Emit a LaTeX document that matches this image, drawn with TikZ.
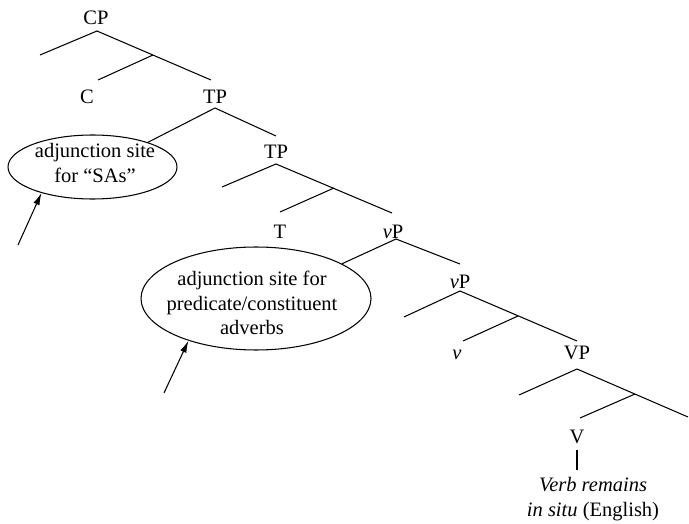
\documentclass[tikz,border=0pt]{standalone}
\usepackage{fontspec}
\setmainfont{Liberation Serif}
\usetikzlibrary{shapes.geometric,arrows.meta}
\begin{document}
\begin{tikzpicture}[x=1pt,y=-1pt,
  lbl/.style={inner sep=0pt, font=\fontsize{20.5}{24.5}\selectfont},
  oval/.style={draw, ellipse, inner sep=0pt, line width=1.05pt},
  br/.style={line width=1.05pt},
  pointer/.style={line width=1.05pt, -{Latex[length=12pt,width=6.5pt]}}]
\useasboundingbox (0,0) rectangle (689,524);
% category labels
\node[lbl] (CP) at (96,18) {CP};
\node[lbl] (C) at (87,97) {C};
\node[lbl] (TP1) at (215,97) {TP};
\node[lbl] (TP2) at (276,152) {TP};
\node[lbl] (T) at (280,232) {T};
\node[lbl] (vP1) at (393,232) {\textit{v}P};
\node[lbl] (vP2) at (460,282) {\textit{v}P};
\node[lbl] (v) at (457,355) {\textit{v}};
\node[lbl] (VP) at (577,353) {VP};
\node[lbl] (V) at (577,437) {V};
\node[lbl, align=center] (verb) at (593,499) {\textit{Verb remains}\\\textit{in situ} (English)};
% ellipses
\node[oval, minimum width=169, minimum height=64] (e1) at (92.5,167) {};
\node[lbl, align=center] (e1t) at (95,163) {adjunction site\\for ``SAs''};
\node[oval, minimum width=230, minimum height=103] (e2) at (256,298.5) {};
\node[lbl, align=center] (e2t) at (252,303) {adjunction site for\\predicate/constituent\\adverbs};
% tree points
\coordinate (a1) at (97,31);  \coordinate (l1) at (40,55);  \coordinate (j1) at (153,55);
\coordinate (r1) at (211,80); \coordinate (c1) at (98,80);
\coordinate (a2) at (215,108); \coordinate (r2) at (276,136);
\coordinate (a3) at (276,164); \coordinate (l3) at (222,187); \coordinate (j3) at (334,188);
\coordinate (r3) at (392,213); \coordinate (t3) at (280,212);
\coordinate (a4) at (396,239); \coordinate (r4) at (460,264);
\coordinate (a5) at (460,291); \coordinate (l5) at (404,317); \coordinate (j5) at (518,316);
\coordinate (r5) at (577,341); \coordinate (v5) at (463,341);
\coordinate (a6) at (577,369); \coordinate (l6) at (519,395); \coordinate (j6) at (635,394);
\coordinate (r6) at (688,417); \coordinate (V6) at (580,418);
% branches
\draw[br] (l1) -- (a1) -- (r1); \draw[br] (j1) -- (c1);
\draw[br] (e1.24) -- (a2) -- (r2);
\draw[br] (l3) -- (a3) -- (r3); \draw[br] (j3) -- (t3);
\draw[br] (e2.22) -- (a4) -- (r4);
\draw[br] (l5) -- (a5) -- (r5); \draw[br] (j5) -- (v5);
\draw[br] (l6) -- (a6) -- (r6); \draw[br] (j6) -- (V6);
\draw[br, shorten <=6pt, shorten >=7pt] (V.south) -- (V.south |- verb.north);
% arrows
\coordinate (p1) at (18,245); \coordinate (p2) at (164,393);
\draw[pointer] (p1) -- (e1.207);
\draw[pointer] (p2) -- (e2.212);
\end{tikzpicture}
\end{document}
